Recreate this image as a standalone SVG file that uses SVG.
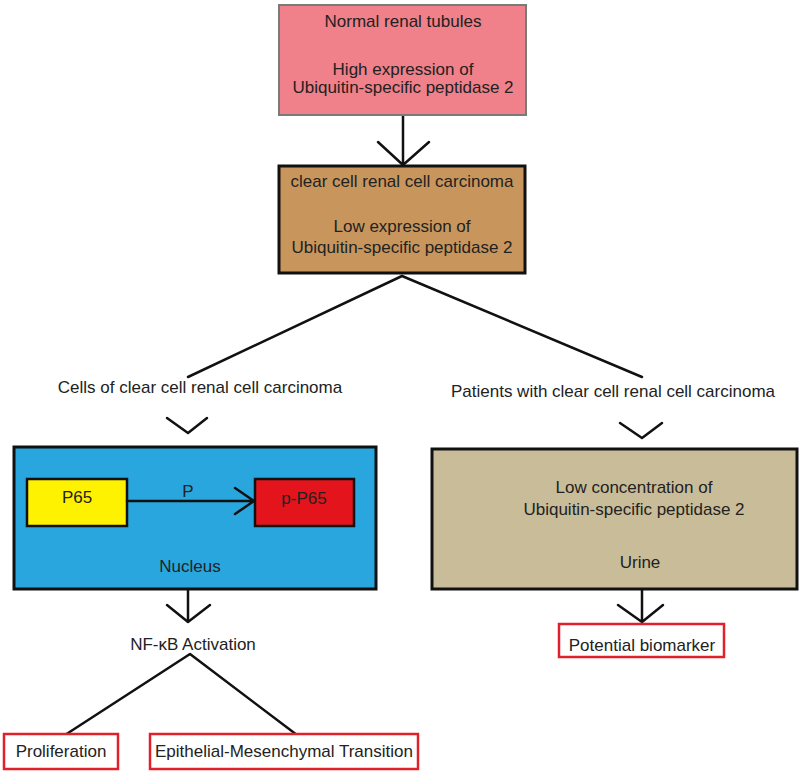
<svg xmlns="http://www.w3.org/2000/svg" width="800" height="774" viewBox="0 0 800 774">
<style>
text{font-family:"Liberation Sans",Arial,sans-serif;font-size:17px;fill:#222;text-anchor:middle}
.ln{stroke:#111;stroke-width:2.5;fill:none;stroke-linecap:round;stroke-linejoin:round}
.out{fill:#fff;stroke:#e0202a;stroke-width:2.5}
</style>
<rect width="800" height="774" fill="#fff"/>
<g id="connectors">
<path class="ln" d="M403,115V165M378,142L403,165L429,142"/>
<path class="ln" d="M188,377L402,276L642,377"/>
<path class="ln" d="M167,418L188,433L207,418"/>
<path class="ln" d="M620,423L642,438L662,423"/>
<path class="ln" d="M188,589V622M167,605L188,622L210,605"/>
<path class="ln" d="M65,735L190,654L297,735"/>
<path class="ln" d="M642,590V622M618,605L642,622L663,605"/>
</g>
<g id="normal">
<rect x="279" y="5" width="247" height="110" fill="#f08089" stroke="#7a7a7a" stroke-width="2"/>
<text x="403" y="27" fill="#3a1a1a">Normal renal tubules</text>
<text x="403" y="75" fill="#3a1a1a">High expression of</text>
<text x="403" y="93" fill="#3a1a1a">Ubiquitin-specific peptidase 2</text>
</g>
<g id="ccrcc">
<rect x="279" y="166" width="246" height="107" fill="#c8965c" stroke="#111" stroke-width="3"/>
<text x="402" y="187">clear cell renal cell carcinoma</text>
<text x="402" y="232">Low expression of</text>
<text x="402" y="253">Ubiquitin-specific peptidase 2</text>
</g>
<g id="cells-label"><text x="200" y="393">Cells of clear cell renal cell carcinoma</text></g>
<g id="patients-label"><text x="613" y="397">Patients with clear cell renal cell carcinoma</text></g>
<g id="nucleus">
<rect x="14" y="447" width="362" height="142" fill="#29a6de" stroke="#111" stroke-width="3"/>
<text x="190" y="572" fill="#13395a">Nucleus</text>
</g>
<g id="p65">
<rect x="27" y="479" width="100" height="47" fill="#fff200" stroke="#111" stroke-width="2.5"/>
<text x="77" y="503" fill="#333">P65</text>
</g>
<g id="pp65">
<rect x="255" y="479" width="99" height="47" fill="#e3141b" stroke="#111" stroke-width="2.5"/>
<text x="304" y="504" fill="#6a0c0c">p-P65</text>
</g>
<g id="phos">
<path class="ln" d="M127,501H254M235,488L254,501L235,514"/>
<text x="188" y="497" fill="#13304a">P</text>
</g>
<g id="urine">
<rect x="432" y="449" width="365" height="140" fill="#c9bc98" stroke="#111" stroke-width="3"/>
<text x="634" y="493">Low concentration of</text>
<text x="634" y="515">Ubiquitin-specific peptidase 2</text>
<text x="640" y="568">Urine</text>
</g>
<g id="nfkb"><text x="193" y="650">NF-κB Activation</text></g>
<g id="prolif">
<rect class="out" x="4" y="734" width="114" height="35"/>
<text x="61" y="757">Proliferation</text>
</g>
<g id="emt">
<rect class="out" x="150" y="734" width="268" height="35"/>
<text x="284" y="757">Epithelial-Mesenchymal Transition</text>
</g>
<g id="biomarker">
<rect class="out" x="559" y="624" width="165" height="33"/>
<text x="642" y="651">Potential biomarker</text>
</g>
</svg>
